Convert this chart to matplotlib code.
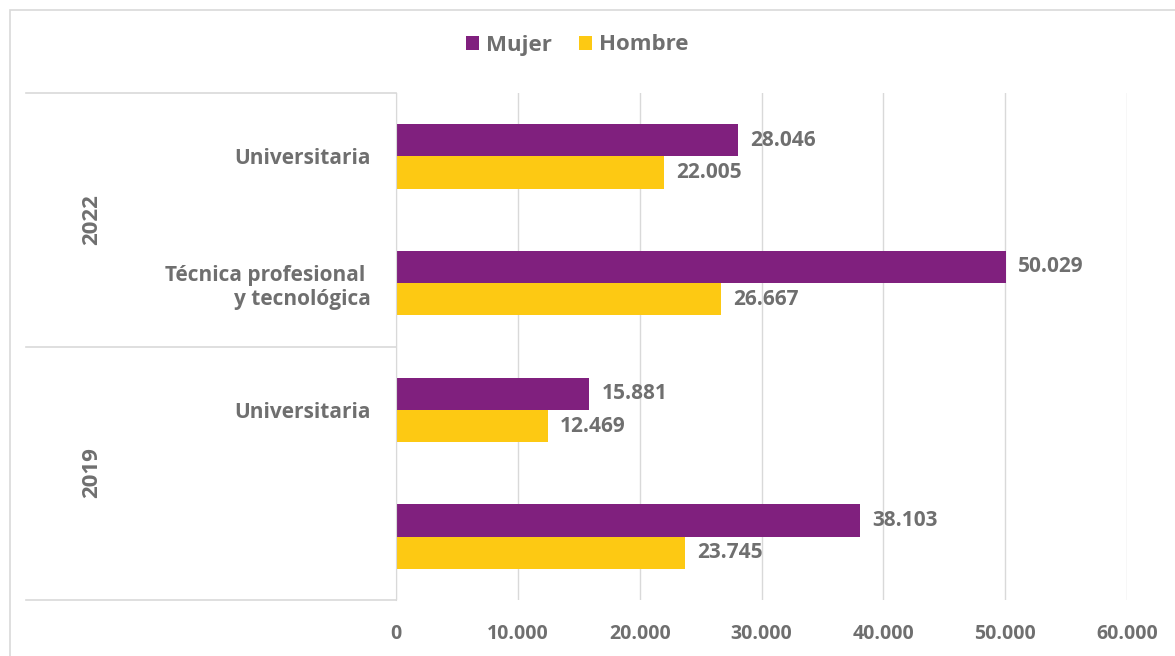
import numpy as np
import matplotlib.pyplot as plt
from matplotlib.lines import Line2D
from matplotlib.patches import Rectangle

plt.rcParams['font.family'] = ['Open Sans', 'DejaVu Sans']
plt.rcParams['font.weight'] = 'bold'

years = ['2022', '2019']
categories = ['Universitaria', 'Técnica profesional \ny tecnológica', 'Universitaria', '']
mujer = [28046, 50029, 15881, 38103]
hombre = [22005, 26667, 12469, 23745]

purple = '#80207E'
yellow = '#FDC913'
gray = '#6F6F6F'
grid = '#D9D9D9'

fig = plt.figure(figsize=(11.75, 6.56), dpi=100)
ax = fig.add_axes([396 / 1175, 1 - 600 / 656, (1127 - 396) / 1175, (600 - 93) / 656])

y = np.arange(len(categories))
h = 0.255
ax.barh(y - h / 2, mujer, height=h, color=purple, label='Mujer')
ax.barh(y + h / 2, hombre, height=h, color=yellow, label='Hombre')

for yi, v in zip(y, mujer):
    ax.text(v + 1000, yi - h / 2, f'{v:,}'.replace(',', '.'), va='center', ha='left',
            fontsize=15, color=gray, fontweight='bold')
for yi, v in zip(y, hombre):
    ax.text(v + 1000, yi + h / 2, f'{v:,}'.replace(',', '.'), va='center', ha='left',
            fontsize=15, color=gray, fontweight='bold')

ax.set_xlim(0, 60000)
ax.set_ylim(3.5, -0.5)
ax.set_xticks(np.arange(0, 60001, 10000))
ax.set_xticklabels([f'{t:,}'.replace(',', '.') for t in range(0, 60001, 10000)])
ax.tick_params(axis='x', length=0, labelsize=14, labelcolor=gray, pad=17)
ax.set_yticks(y)
ax.set_yticklabels(categories)
ax.tick_params(axis='y', length=0, labelsize=15, labelcolor=gray, pad=18)
for lbl in ax.get_yticklabels():
    lbl.set_ha('right')
ax.grid(axis='x', color=grid, linewidth=1)
ax.set_axisbelow(True)
for s in ['top', 'right', 'bottom']:
    ax.spines[s].set_visible(False)
ax.spines['left'].set_color(grid)

# group separators and year labels
x0 = 26 / 1175
x1 = 396 / 1175
for py in [93, 347, 600]:
    fig.add_artist(Line2D([x0, x1], [1 - py / 656, 1 - py / 656], color=grid, lw=1.2))
for yr, py in zip(years, [220, 473]):
    fig.text(92 / 1175, 1 - py / 656, yr, rotation=90, ha='center', va='center',
             fontsize=16, color=gray, fontweight='bold')

# outer frame
fig.add_artist(Rectangle((10 / 1175, -0.1), 1.2, 1 - 10 / 656 + 0.1, fill=False,
                         edgecolor=grid, lw=1.2, transform=fig.transFigure))

fig.legend(loc='center', bbox_to_anchor=(577 / 1175, 1 - 45 / 656), ncol=2, frameon=False,
           fontsize=16, labelcolor=gray, handlelength=0.6, handleheight=0.6,
           handletextpad=0.3, columnspacing=1.2)

fig.savefig('out.png', dpi=100)
